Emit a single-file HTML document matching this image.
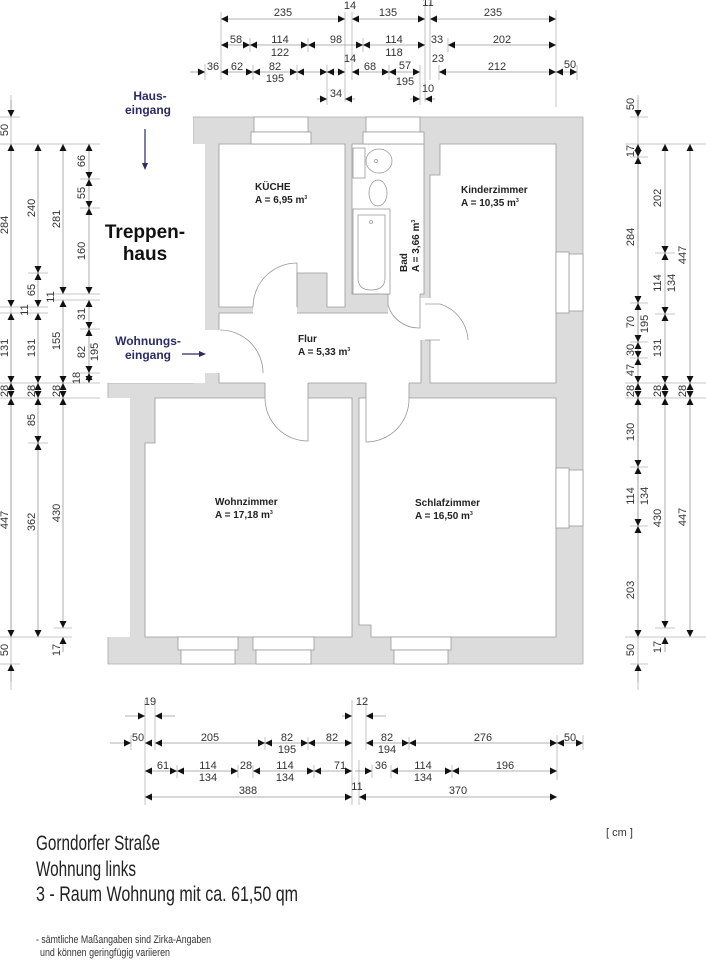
<!DOCTYPE html>
<html><head><meta charset="utf-8"><style>
html,body{margin:0;padding:0;background:#fff;}
svg{display:block;font-family:"Liberation Sans",Arial,sans-serif;}
.d{stroke:#999;stroke-width:.8;marker-start:url(#a);marker-end:url(#a);}
.o{stroke:#999;stroke-width:.8;marker-end:url(#a);}
.t{stroke:#b5b5b5;stroke-width:.8;}
.n{font-size:11px;fill:#333;text-anchor:middle;}
.r{font-size:10px;font-weight:bold;fill:#222;}
.w{fill:#fff;stroke:#999;stroke-width:.8;}
.e{fill:none;stroke:#999;stroke-width:.8;}
</style></head><body>
<svg width="706" height="960" viewBox="0 0 706 960" xmlns="http://www.w3.org/2000/svg">
<defs><marker id="a" viewBox="0 0 10 10" refX="10" refY="5" markerWidth="9" markerHeight="7" markerUnits="userSpaceOnUse" orient="auto-start-reverse"><path d="M0,0L10,5L0,10z" fill="#111"/></marker></defs>

<!-- walls -->
<path d="M193,117H583V664H108V383H193Z" fill="#dcdcdc" stroke="#aaa" stroke-width=".8"/>
<rect x="100" y="144" width="105" height="239" fill="#fff"/>
<rect x="100" y="117" width="93" height="27" fill="#fff"/>
<rect x="100" y="398" width="30" height="239" fill="#fff"/>
<!-- rooms -->
<path class="w" d="M219,144H345V307H327V273H297V307H219Z"/>
<rect class="w" x="352" y="144" width="72" height="150"/>
<path class="w" d="M219,313H421V383H219Z"/>
<path class="w" d="M440,144H556V383H430V175H440Z"/>
<path class="w" d="M155,398H352V637H145V443H155Z"/>
<path class="w" d="M359,398H556V637H371V625H359Z"/>
<!-- openings -->
<rect x="205" y="330" width="15" height="43" fill="#fff"/>
<rect x="253" y="306" width="44" height="8" fill="#fff"/>
<rect x="388" y="293" width="32" height="21" fill="#fff"/>
<rect x="420" y="298" width="14" height="42" fill="#fff"/>
<rect x="265" y="382" width="43" height="17" fill="#fff"/>
<rect x="366" y="382" width="43" height="17" fill="#fff"/>
<!-- windows -->
<rect class="w" x="254" y="117" width="54" height="15"/><rect class="w" x="251" y="132" width="60" height="12"/>
<rect class="w" x="366" y="117" width="54" height="15"/><rect class="w" x="363" y="132" width="61" height="12"/>
<rect class="w" x="569" y="254" width="14" height="57"/><rect class="w" x="556" y="252" width="13" height="61"/>
<rect class="w" x="569" y="470" width="14" height="56"/><rect class="w" x="556" y="468" width="13" height="60"/>
<rect class="w" x="178" y="637" width="60" height="13"/><rect class="w" x="181" y="650" width="54" height="14"/>
<rect class="w" x="253" y="637" width="61" height="13"/><rect class="w" x="256" y="650" width="55" height="14"/>
<rect class="w" x="391" y="637" width="60" height="13"/><rect class="w" x="394" y="650" width="54" height="14"/>
<!-- doors -->
<path class="e" d="M253,307A44,44 0 0 1 297,263V307"/>
<path class="e" d="M220,330A43,43 0 0 1 263,373"/>
<path class="e" d="M388,294V305A32,32 0 0 0 420,328V294"/>
<path class="e" d="M425,304H440M425,340H440M440,304A40,40 0 0 1 468,340"/>
<path class="e" d="M265,383V398A43,43 0 0 0 308,441V383"/>
<path class="e" d="M366,383V442A43,43 0 0 0 409,398V383"/>
<!-- bath fixtures -->
<rect class="w" x="353" y="148" width="12" height="30"/>
<ellipse class="w" cx="379" cy="161" rx="13" ry="12"/><circle class="e" cx="376" cy="161" r="1.5"/>
<ellipse class="w" cx="378" cy="193" rx="9" ry="13"/>
<rect class="w" x="353" y="209" width="37" height="85"/>
<path class="e" d="M358,215H385V278Q385,290 371,290Q358,290 358,278Z"/>
<circle class="e" cx="371" cy="222" r="1.5"/>

<!-- room labels -->
<text class="r" x="255" y="190">KÜCHE</text><text class="r" x="255" y="203">A = 6,95 m<tspan font-size="5" dy="-4">3</tspan></text>
<text class="r" x="461" y="193">Kinderzimmer</text><text class="r" x="461" y="206">A = 10,35 m<tspan font-size="5" dy="-4">3</tspan></text>
<text class="r" x="298" y="342">Flur</text><text class="r" x="298" y="355">A = 5,33 m<tspan font-size="5" dy="-4">3</tspan></text>
<text class="r" x="215" y="505">Wohnzimmer</text><text class="r" x="215" y="518">A = 17,18 m<tspan font-size="5" dy="-4">3</tspan></text>
<text class="r" x="415" y="506">Schlafzimmer</text><text class="r" x="415" y="519">A = 16,50 m<tspan font-size="5" dy="-4">3</tspan></text>
<text class="r" transform="translate(407,272) rotate(-90)">Bad</text>
<text class="r" transform="translate(419,272) rotate(-90)">A = 3,66 m<tspan font-size="5" dy="-4">3</tspan></text>

<text x="150" y="100" font-size="12" font-weight="bold" fill="#2a2a66" text-anchor="middle">Haus-</text>
<text x="148" y="114" font-size="12" font-weight="bold" fill="#2a2a66" text-anchor="middle">eingang</text>
<line x1="145" y1="129" x2="145" y2="164" stroke="#2a2a66" stroke-width="1.2"/><path d="M142,163L148,163L145,170Z" fill="#2a2a66"/>
<text x="145" y="238" font-size="19" font-weight="bold" fill="#111" text-anchor="middle">Treppen-</text>
<text x="145" y="260" font-size="19" font-weight="bold" fill="#111" text-anchor="middle">haus</text>
<text x="148" y="345" font-size="12" font-weight="bold" fill="#2a2a66" text-anchor="middle">Wohnungs-</text>
<text x="148" y="359" font-size="12" font-weight="bold" fill="#2a2a66" text-anchor="middle">eingang</text>
<line x1="182" y1="354" x2="199" y2="354" stroke="#2a2a66" stroke-width="1.2"/><path d="M199,351L199,357L206,354Z" fill="#2a2a66"/>

<!-- top dims -->
<g class="t">
<line x1="221" y1="12" x2="221" y2="80"/><line x1="345" y1="12" x2="345" y2="102"/><line x1="352" y1="12" x2="352" y2="80"/>
<line x1="425" y1="2" x2="425" y2="102"/><line x1="430" y1="2" x2="430" y2="80"/><line x1="556" y1="10" x2="556" y2="107"/>
<line x1="205" y1="64" x2="205" y2="80"/><line x1="250" y1="38" x2="250" y2="52"/><line x1="308" y1="38" x2="308" y2="52"/>
<line x1="363" y1="38" x2="363" y2="52"/><line x1="448" y1="38" x2="448" y2="52"/><line x1="253" y1="65" x2="253" y2="80"/>
<line x1="297" y1="65" x2="297" y2="80"/><line x1="327" y1="65" x2="327" y2="105"/><line x1="389" y1="65" x2="389" y2="80"/>
<line x1="420" y1="65" x2="420" y2="105"/><line x1="439" y1="65" x2="439" y2="80"/><line x1="577" y1="65" x2="577" y2="80"/>
</g>
<line class="d" x1="221" y1="19" x2="345" y2="19"/><line class="d" x1="352" y1="19" x2="425" y2="19"/><line class="d" x1="430" y1="19" x2="556" y2="19"/>
<line class="d" x1="221" y1="45" x2="250" y2="45"/><line class="d" x1="250" y1="45" x2="308" y2="45"/><line class="d" x1="308" y1="45" x2="363" y2="45"/>
<line class="d" x1="363" y1="45" x2="425" y2="45"/><line class="d" x1="448" y1="45" x2="556" y2="45"/>
<line class="o" x1="190" y1="72" x2="205" y2="72"/><line class="d" x1="221" y1="72" x2="253" y2="72"/><line class="d" x1="253" y1="72" x2="297" y2="72"/>
<line class="d" x1="297" y1="72" x2="327" y2="72"/><line class="d" x1="327" y1="72" x2="345" y2="72"/><line class="d" x1="352" y1="72" x2="389" y2="72"/>
<line class="d" x1="389" y1="72" x2="420" y2="72"/><line class="d" x1="439" y1="72" x2="556" y2="72"/><line class="d" x1="556" y1="72" x2="577" y2="72"/>
<line class="o" x1="317" y1="99" x2="327" y2="99"/><line class="o" x1="355" y1="99" x2="345" y2="99"/>
<line class="o" x1="410" y1="99" x2="420" y2="99"/><line class="o" x1="435" y1="99" x2="425" y2="99"/>
<g class="n">
<text x="283" y="16">235</text><text x="350" y="9">14</text><text x="388" y="16">135</text><text x="428" y="6">11</text><text x="493" y="16">235</text>
<text x="236" y="43">58</text><text x="280" y="43">114</text><text x="280" y="56">122</text><text x="336" y="43">98</text>
<text x="394" y="43">114</text><text x="394" y="56">118</text><text x="437" y="43">33</text><text x="502" y="43">202</text>
<text x="213" y="70">36</text><text x="237" y="70">62</text><text x="275" y="70">82</text><text x="275" y="82">195</text>
<text x="350" y="62">14</text><text x="370" y="70">68</text><text x="405" y="69">57</text><text x="405" y="85">195</text>
<text x="438" y="62">23</text><text x="497" y="70">212</text><text x="570" y="68">50</text>
<text x="336" y="97">34</text><text x="428" y="92">10</text>
</g>

<!-- left dims -->
<g class="t">
<line x1="0" y1="144" x2="100" y2="144"/><line x1="0" y1="117" x2="20" y2="117"/><line x1="0" y1="307" x2="48" y2="307"/>
<line x1="0" y1="313" x2="48" y2="313"/><line x1="50" y1="294" x2="100" y2="294"/><line x1="50" y1="300" x2="100" y2="300"/>
<line x1="0" y1="383" x2="100" y2="383"/><line x1="0" y1="398" x2="100" y2="398"/><line x1="0" y1="637" x2="72" y2="637"/>
<line x1="0" y1="664" x2="20" y2="664"/><line x1="28" y1="273" x2="48" y2="273"/><line x1="28" y1="443" x2="48" y2="443"/>
<line x1="54" y1="628" x2="72" y2="628"/><line x1="80" y1="179" x2="100" y2="179"/><line x1="80" y1="208" x2="100" y2="208"/>
<line x1="80" y1="329" x2="100" y2="329"/><line x1="80" y1="373" x2="100" y2="373"/>
<line x1="11" y1="95" x2="11" y2="690"/>
</g>
<line class="o" x1="11" y1="100" x2="11" y2="117"/><line class="d" x1="11" y1="144" x2="11" y2="307"/><line class="d" x1="11" y1="313" x2="11" y2="383"/>
<line class="d" x1="11" y1="383" x2="11" y2="398"/><line class="d" x1="11" y1="398" x2="11" y2="637"/><line class="o" x1="11" y1="682" x2="11" y2="664"/>
<line class="d" x1="38" y1="144" x2="38" y2="273"/><line class="d" x1="38" y1="273" x2="38" y2="307"/><line class="d" x1="38" y1="313" x2="38" y2="383"/>
<line class="d" x1="38" y1="383" x2="38" y2="398"/><line class="d" x1="38" y1="398" x2="38" y2="443"/><line class="d" x1="38" y1="443" x2="38" y2="637"/>
<line class="d" x1="63" y1="144" x2="63" y2="294"/><line class="d" x1="63" y1="300" x2="63" y2="383"/><line class="d" x1="63" y1="383" x2="63" y2="398"/>
<line class="d" x1="63" y1="398" x2="63" y2="628"/><line class="o" x1="63" y1="652" x2="63" y2="637"/>
<line class="d" x1="89" y1="144" x2="89" y2="179"/><line class="d" x1="89" y1="179" x2="89" y2="208"/><line class="d" x1="89" y1="208" x2="89" y2="294"/>
<line class="d" x1="89" y1="300" x2="89" y2="329"/><line class="d" x1="89" y1="329" x2="89" y2="373"/><line class="d" x1="89" y1="373" x2="89" y2="383"/>
<g class="n">
<text transform="translate(8,130) rotate(-90)">50</text><text transform="translate(8,225) rotate(-90)">284</text>
<text transform="translate(8,348) rotate(-90)">131</text><text transform="translate(8,391) rotate(-90)">28</text>
<text transform="translate(8,520) rotate(-90)">447</text><text transform="translate(8,650) rotate(-90)">50</text>
<text transform="translate(35,208) rotate(-90)">240</text><text transform="translate(35,290) rotate(-90)">65</text>
<text transform="translate(28,310) rotate(-90)">11</text><text transform="translate(35,348) rotate(-90)">131</text>
<text transform="translate(35,391) rotate(-90)">28</text><text transform="translate(35,420) rotate(-90)">85</text>
<text transform="translate(35,522) rotate(-90)">362</text>
<text transform="translate(60,219) rotate(-90)">281</text><text transform="translate(54,297) rotate(-90)">11</text>
<text transform="translate(60,341) rotate(-90)">155</text><text transform="translate(60,391) rotate(-90)">28</text>
<text transform="translate(60,513) rotate(-90)">430</text><text transform="translate(60,650) rotate(-90)">17</text>
<text transform="translate(85,161) rotate(-90)">66</text><text transform="translate(85,193) rotate(-90)">55</text>
<text transform="translate(85,251) rotate(-90)">160</text><text transform="translate(85,314) rotate(-90)">31</text>
<text transform="translate(85,352) rotate(-90)">82</text><text transform="translate(98,352) rotate(-90)">195</text>
<text transform="translate(80,378) rotate(-90)">18</text>
</g>

<!-- right dims -->
<g class="t">
<line x1="625" y1="144" x2="706" y2="144"/><line x1="630" y1="117" x2="648" y2="117"/><line x1="625" y1="383" x2="706" y2="383"/>
<line x1="625" y1="398" x2="706" y2="398"/><line x1="625" y1="637" x2="706" y2="637"/><line x1="630" y1="664" x2="648" y2="664"/>
<line x1="630" y1="157" x2="648" y2="157"/><line x1="630" y1="303" x2="648" y2="303"/><line x1="630" y1="342" x2="648" y2="342"/>
<line x1="630" y1="358" x2="648" y2="358"/><line x1="630" y1="467" x2="648" y2="467"/><line x1="630" y1="526" x2="648" y2="526"/>
<line x1="655" y1="253" x2="675" y2="253"/><line x1="655" y1="314" x2="675" y2="314"/><line x1="655" y1="628" x2="675" y2="628"/>
<line x1="638" y1="95" x2="638" y2="690"/>
</g>
<line class="o" x1="638" y1="100" x2="638" y2="117"/><line class="d" x1="638" y1="144" x2="638" y2="157"/><line class="d" x1="638" y1="157" x2="638" y2="303"/>
<line class="d" x1="638" y1="303" x2="638" y2="342"/><line class="d" x1="638" y1="342" x2="638" y2="358"/><line class="d" x1="638" y1="358" x2="638" y2="383"/>
<line class="d" x1="638" y1="383" x2="638" y2="398"/><line class="d" x1="638" y1="398" x2="638" y2="467"/><line class="d" x1="638" y1="467" x2="638" y2="526"/>
<line class="d" x1="638" y1="526" x2="638" y2="637"/><line class="o" x1="638" y1="682" x2="638" y2="664"/>
<line class="d" x1="665" y1="144" x2="665" y2="253"/><line class="d" x1="665" y1="253" x2="665" y2="314"/><line class="d" x1="665" y1="314" x2="665" y2="383"/>
<line class="d" x1="665" y1="383" x2="665" y2="398"/><line class="d" x1="665" y1="398" x2="665" y2="628"/><line class="o" x1="665" y1="652" x2="665" y2="637"/>
<line class="d" x1="690" y1="144" x2="690" y2="383"/><line class="d" x1="690" y1="383" x2="690" y2="398"/><line class="d" x1="690" y1="398" x2="690" y2="637"/>
<g class="n">
<text transform="translate(634,104) rotate(-90)">50</text><text transform="translate(634,151) rotate(-90)">17</text>
<text transform="translate(634,237) rotate(-90)">284</text><text transform="translate(634,322) rotate(-90)">70</text>
<text transform="translate(648,324) rotate(-90)">195</text><text transform="translate(634,350) rotate(-90)">30</text>
<text transform="translate(634,370) rotate(-90)">47</text><text transform="translate(634,391) rotate(-90)">28</text>
<text transform="translate(634,432) rotate(-90)">130</text><text transform="translate(634,496) rotate(-90)">114</text>
<text transform="translate(648,496) rotate(-90)">134</text><text transform="translate(634,590) rotate(-90)">203</text>
<text transform="translate(634,650) rotate(-90)">50</text>
<text transform="translate(661,198) rotate(-90)">202</text><text transform="translate(661,283) rotate(-90)">114</text>
<text transform="translate(675,283) rotate(-90)">134</text><text transform="translate(661,348) rotate(-90)">131</text>
<text transform="translate(661,391) rotate(-90)">28</text><text transform="translate(661,518) rotate(-90)">430</text>
<text transform="translate(661,647) rotate(-90)">17</text>
<text transform="translate(686,255) rotate(-90)">447</text><text transform="translate(686,391) rotate(-90)">28</text>
<text transform="translate(686,517) rotate(-90)">447</text>
</g>

<!-- bottom dims -->
<g class="t">
<line x1="145" y1="700" x2="145" y2="805"/><line x1="155" y1="700" x2="155" y2="750"/><line x1="131" y1="735" x2="131" y2="750"/>
<line x1="352" y1="700" x2="352" y2="805"/><line x1="359" y1="760" x2="359" y2="805"/><line x1="366" y1="700" x2="366" y2="750"/>
<line x1="557" y1="735" x2="557" y2="780"/><line x1="583" y1="735" x2="583" y2="750"/><line x1="265" y1="737" x2="265" y2="750"/>
<line x1="308" y1="737" x2="308" y2="750"/><line x1="409" y1="737" x2="409" y2="750"/><line x1="177" y1="765" x2="177" y2="778"/>
<line x1="238" y1="765" x2="238" y2="778"/><line x1="253" y1="765" x2="253" y2="778"/><line x1="314" y1="765" x2="314" y2="778"/>
<line x1="372" y1="765" x2="372" y2="778"/><line x1="391" y1="765" x2="391" y2="778"/><line x1="452" y1="765" x2="452" y2="778"/>
</g>
<line class="o" x1="125" y1="716" x2="145" y2="716"/><line class="o" x1="175" y1="716" x2="155" y2="716"/>
<line class="o" x1="342" y1="716" x2="352" y2="716"/><line class="o" x1="386" y1="716" x2="366" y2="716"/>
<line class="o" x1="110" y1="743" x2="131" y2="743"/><line class="o" x1="150" y1="743" x2="145" y2="743"/>
<line class="d" x1="155" y1="743" x2="265" y2="743"/><line class="d" x1="265" y1="743" x2="308" y2="743"/><line class="d" x1="308" y1="743" x2="352" y2="743"/>
<line class="d" x1="366" y1="743" x2="409" y2="743"/><line class="d" x1="409" y1="743" x2="557" y2="743"/><line class="d" x1="557" y1="743" x2="583" y2="743"/>
<line class="d" x1="145" y1="771" x2="177" y2="771"/><line class="d" x1="177" y1="771" x2="238" y2="771"/><line class="d" x1="253" y1="771" x2="314" y2="771"/>
<line class="d" x1="314" y1="771" x2="352" y2="771"/><line class="o" x1="355" y1="771" x2="372" y2="771"/><line class="d" x1="391" y1="771" x2="452" y2="771"/>
<line class="d" x1="452" y1="771" x2="557" y2="771"/>
<line class="d" x1="145" y1="797" x2="352" y2="797"/><line class="d" x1="359" y1="797" x2="557" y2="797"/>
<g class="n">
<text x="150" y="705">19</text><text x="362" y="705">12</text>
<text x="138" y="741">50</text><text x="210" y="741">205</text><text x="287" y="741">82</text><text x="287" y="753">195</text>
<text x="332" y="741">82</text><text x="387" y="741">82</text><text x="387" y="753">194</text><text x="483" y="741">276</text>
<text x="570" y="741">50</text>
<text x="163" y="769">61</text><text x="208" y="769">114</text><text x="208" y="781">134</text><text x="246" y="769">28</text>
<text x="285" y="769">114</text><text x="285" y="781">134</text><text x="340" y="769">71</text><text x="381" y="769">36</text>
<text x="423" y="769">114</text><text x="423" y="781">134</text><text x="505" y="769">196</text>
<text x="248" y="794">388</text><text x="357" y="790">11</text><text x="458" y="794">370</text>
</g>

<!-- footer -->
<text x="606" y="836" font-size="11" fill="#333">[ cm ]</text>
<g font-size="21" fill="#222">
<text x="36" y="850" textLength="124" lengthAdjust="spacingAndGlyphs">Gorndorfer Straße</text>
<text x="36" y="876" textLength="100" lengthAdjust="spacingAndGlyphs">Wohnung links</text>
<text x="36" y="901" textLength="262" lengthAdjust="spacingAndGlyphs">3 - Raum Wohnung mit ca. 61,50 qm</text>
</g>
<text x="36" y="943" font-size="11" fill="#333" textLength="175" lengthAdjust="spacingAndGlyphs">- sämtliche Maßangaben sind Zirka-Angaben</text>
<text x="40" y="956" font-size="11" fill="#333" textLength="130" lengthAdjust="spacingAndGlyphs">und können geringfügig variieren</text>
</svg>
</body></html>
